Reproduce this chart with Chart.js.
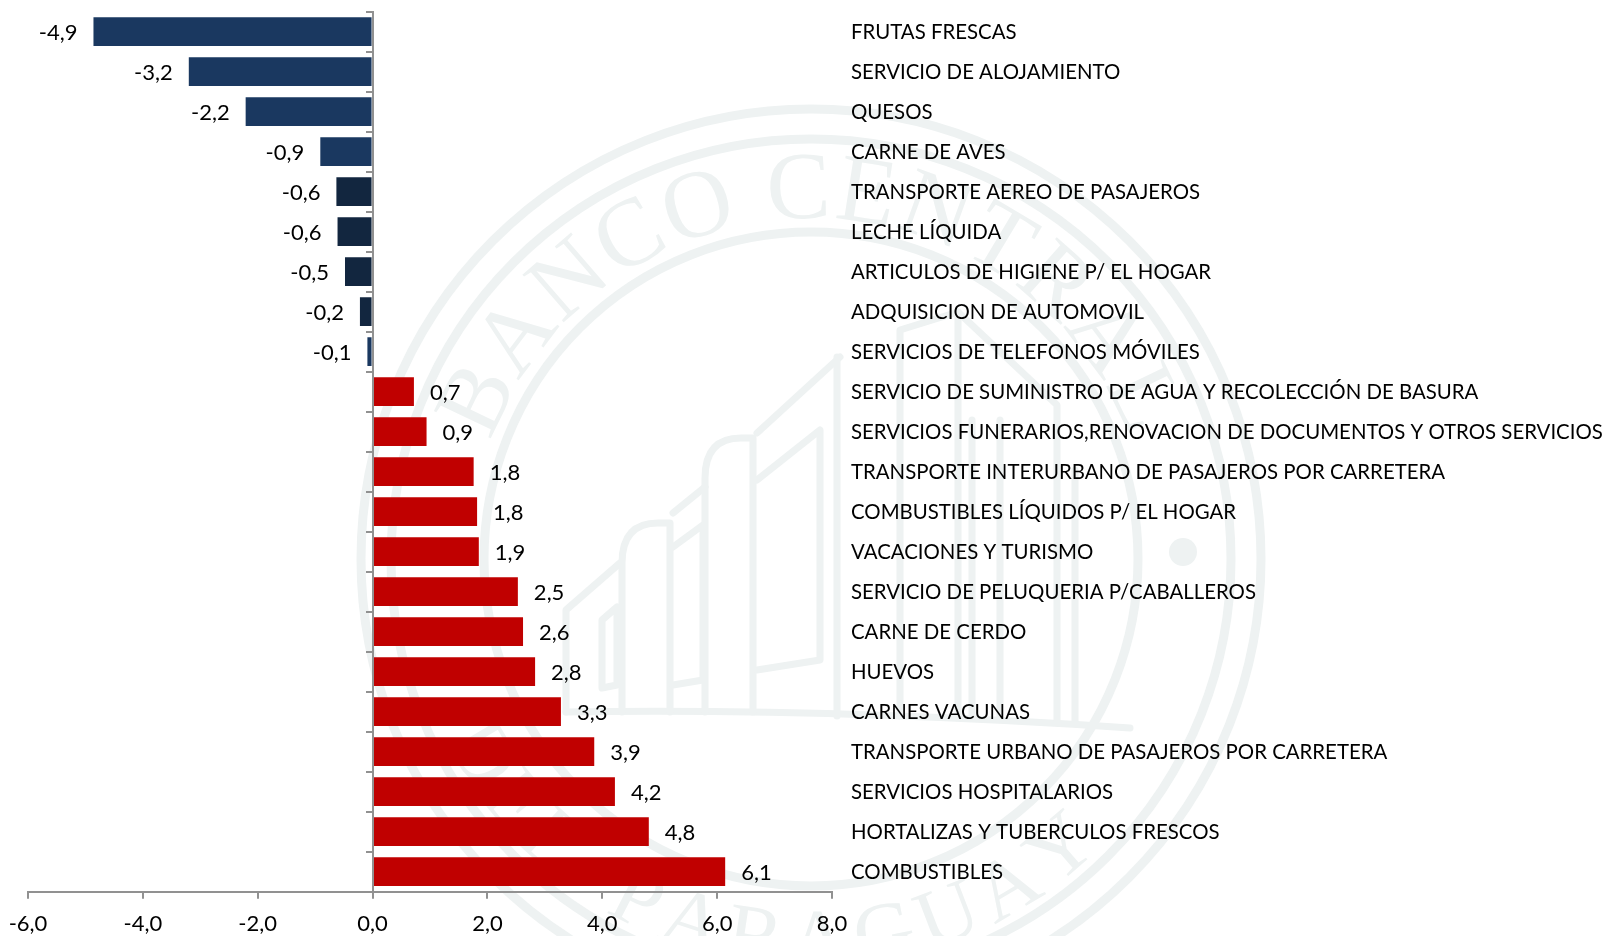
<!DOCTYPE html>
<html>
<head>
<meta charset="utf-8">
<title>Incidencia por producto</title>
<script src="https://cdn.jsdelivr.net/npm/chart.js@4"></script>
<style>
  html, body { margin: 0; padding: 0; background: #fff; }
  canvas { display: block; }
</style>
</head>
<body>
<canvas id="chart" width="1606" height="936"></canvas>
<script>
// Chart data
const categories = [
    'FRUTAS FRESCAS', 'SERVICIO DE ALOJAMIENTO', 'QUESOS', 'CARNE DE AVES',
    'TRANSPORTE AEREO DE PASAJEROS', 'LECHE LÍQUIDA', 'ARTICULOS DE HIGIENE P/ EL HOGAR',
    'ADQUISICION DE AUTOMOVIL', 'SERVICIOS DE TELEFONOS MÓVILES',
    'SERVICIO DE SUMINISTRO DE AGUA Y RECOLECCIÓN DE BASURA',
    'SERVICIOS FUNERARIOS,RENOVACION DE DOCUMENTOS Y OTROS SERVICIOS',
    'TRANSPORTE INTERURBANO DE PASAJEROS POR CARRETERA', 'COMBUSTIBLES LÍQUIDOS P/ EL HOGAR',
    'VACACIONES Y TURISMO', 'SERVICIO DE PELUQUERIA P/CABALLEROS', 'CARNE DE CERDO', 'HUEVOS',
    'CARNES VACUNAS', 'TRANSPORTE URBANO DE PASAJEROS POR CARRETERA', 'SERVICIOS HOSPITALARIOS',
    'HORTALIZAS Y TUBERCULOS FRESCOS', 'COMBUSTIBLES'
];
const values = [
    -4.86, -3.2, -2.21, -0.91, -0.63, -0.61, -0.48, -0.22, -0.09,
    0.72, 0.94, 1.76, 1.82, 1.85, 2.53, 2.62, 2.83, 3.28, 3.86, 4.22, 4.81, 6.14
];
const tickLabels = ['-6,0', '-4,0', '-2,0', '0,0', '2,0', '4,0', '6,0', '8,0'];

const FONT = 'Lato, "Open Sans", sans-serif';
const RED = '#c00000';
const NAVY = '#1a3860';
const DARK_NAVY = '#12263f';
const AXIS = '#919191';
const SEAL = '#eef2f2';

function barColor(ctx) {
    const i = ctx.dataIndex;
    if (values[i] > 0) return RED;
    return (i >= 4 && i <= 7) ? DARK_NAVY : NAVY;
}

function formatValue(v) {
    return v.toFixed(1).replace('.', ',');
}

// Writes text around a circle, one letter at a time
function arcText(ctx, text, cx, cy, r, startDeg, spacing, outward) {
    let a = startDeg * Math.PI / 180;
    for (const ch of text) {
        const w = ctx.measureText(ch).width + spacing;
        const step = w / r;
        const mid = a + step / 2;
        ctx.save();
        if (outward) {
            ctx.translate(cx + r * Math.sin(mid), cy - r * Math.cos(mid));
            ctx.rotate(mid);
        } else {
            ctx.translate(cx + r * Math.sin(mid), cy + r * Math.cos(mid));
            ctx.rotate(-mid);
        }
        ctx.fillText(ch, 0, 0);
        ctx.restore();
        a += step;
    }
}

function polyline(ctx, pts) {
    ctx.beginPath();
    pts.forEach((p, i) => i ? ctx.lineTo(p[0], p[1]) : ctx.moveTo(p[0], p[1]));
    ctx.stroke();
}

// Column with a rounded top left corner
function tower(ctx, left, right, top, bottom) {
    ctx.beginPath();
    ctx.moveTo(left, bottom);
    ctx.lineTo(left, top + 40);
    ctx.quadraticCurveTo(left, top, left + 36, top);
    ctx.lineTo(right, top);
    ctx.lineTo(right, bottom);
    ctx.stroke();
}

// Faint bank seal behind the chart
const sealPlugin = {
    id: 'seal',
    beforeDraw(chart) {
        const ctx = chart.ctx;
        const cx = 811, cy = 559;
        ctx.save();
        ctx.fillStyle = '#fff';
        ctx.fillRect(0, 0, chart.width, chart.height);
        ctx.strokeStyle = SEAL;
        ctx.fillStyle = SEAL;
        ctx.lineCap = 'round';
        ctx.lineJoin = 'round';

        ctx.lineWidth = 9;
        [450, 420, 327].forEach(r => {
            ctx.beginPath();
            ctx.arc(cx, cy, r, 0, Math.PI * 2);
            ctx.stroke();
        });

        ctx.textAlign = 'center';
        ctx.textBaseline = 'alphabetic';
        ctx.font = '96px "Liberation Serif"';
        arcText(ctx, 'BANCO CENTRAL', cx, cy, 341, -70, 2, true);
        ctx.font = '84px "Liberation Serif"';
        arcText(ctx, 'DEL', cx, cy, 408, -64, 6, false);
        arcText(ctx, 'PARAGUAY', cx, cy, 408, -31, 10, false);

        [439, 1183].forEach(x => {
            ctx.beginPath();
            ctx.arc(x, 552, 14, 0, Math.PI * 2);
            ctx.fill();
        });

        // Building
        ctx.lineWidth = 7;
        ctx.beginPath();
        ctx.moveTo(566, 712);
        ctx.quadraticCurveTo(830, 708, 1130, 728);
        ctx.stroke();
        polyline(ctx, [[566, 712], [566, 610], [620, 563]]);
        tower(ctx, 622, 670, 523, 712);
        polyline(ctx, [[673, 513], [705, 487]]);
        tower(ctx, 705, 753, 438, 712);
        polyline(ctx, [[757, 433], [840, 357]]);
        polyline(ctx, [[837, 357], [837, 716]]);
        polyline(ctx, [[602, 688], [602, 620], [617, 607], [617, 685], [602, 688]]);
        polyline(ctx, [[673, 547], [703, 525], [703, 680], [673, 685]]);
        polyline(ctx, [[757, 480], [820, 430], [820, 660], [757, 670]]);
        polyline(ctx, [[900, 716], [900, 330], [958, 312], [1057, 405], [1057, 720]]);
        polyline(ctx, [[958, 312], [958, 718]]);
        polyline(ctx, [[972, 718], [972, 420]]);
        polyline(ctx, [[1000, 718], [1000, 420]]);
        polyline(ctx, [[1075, 722], [1075, 470]]);
        ctx.restore();
    }
};

// Value labels and category names, placed from the scales
const labelsPlugin = {
    id: 'barLabels',
    afterDatasetsDraw(chart) {
        const ctx = chart.ctx;
        const meta = chart.getDatasetMeta(0);
        const xScale = chart.scales.x;
        const yScale = chart.scales.y;
        ctx.save();
        ctx.fillStyle = '#000';
        ctx.textBaseline = 'middle';

        ctx.font = '22px ' + FONT;
        meta.data.forEach((bar, i) => {
            const neg = values[i] < 0;
            ctx.textAlign = neg ? 'right' : 'left';
            ctx.fillText(formatValue(values[i]), bar.x + (neg ? -16 : 16), bar.y + 1);
        });

        ctx.font = '20.4px ' + FONT;
        ctx.textAlign = 'left';
        categories.forEach((name, i) => {
            ctx.fillText(name, xScale.right + 19, yScale.getPixelForValue(i) + 1);
        });
        ctx.restore();
    }
};

new Chart(document.getElementById('chart'), {
    type: 'bar',
    data: {
        labels: categories,
        datasets: [{
            data: values,
            backgroundColor: barColor,
            borderWidth: 0,
            categoryPercentage: 1,
            barPercentage: 0.72
        }]
    },
    plugins: [sealPlugin, labelsPlugin],
    options: {
        indexAxis: 'y',
        responsive: false,
        animation: false,
        layout: { padding: { left: 28, top: 11.7, right: 774, bottom: 0 } },
        plugins: {
            legend: { display: false },
            title: { display: false },
            tooltip: { enabled: false }
        },
        scales: {
            x: {
                min: -6,
                max: 8,
                afterFit(scale) {
                    scale.height = 44.3;
                    scale.paddingLeft = 0;
                    scale.paddingRight = 0;
                },
                ticks: {
                    stepSize: 2,
                    maxRotation: 0,
                    padding: 12,
                    color: '#000',
                    font: { family: FONT, size: 22 },
                    callback: (v, i) => tickLabels[i]
                },
                grid: { drawOnChartArea: false, drawTicks: true, tickLength: 7, color: AXIS, lineWidth: 2 },
                border: { color: AXIS, width: 2, z: 1 }
            },
            y: {
                position: { x: 0 },
                grid: { drawOnChartArea: false, drawTicks: true, tickLength: 6, color: AXIS, lineWidth: 2 },
                border: { color: AXIS, width: 2, z: 1 },
                ticks: { display: false }
            }
        }
    }
});
</script>
</body>
</html>
